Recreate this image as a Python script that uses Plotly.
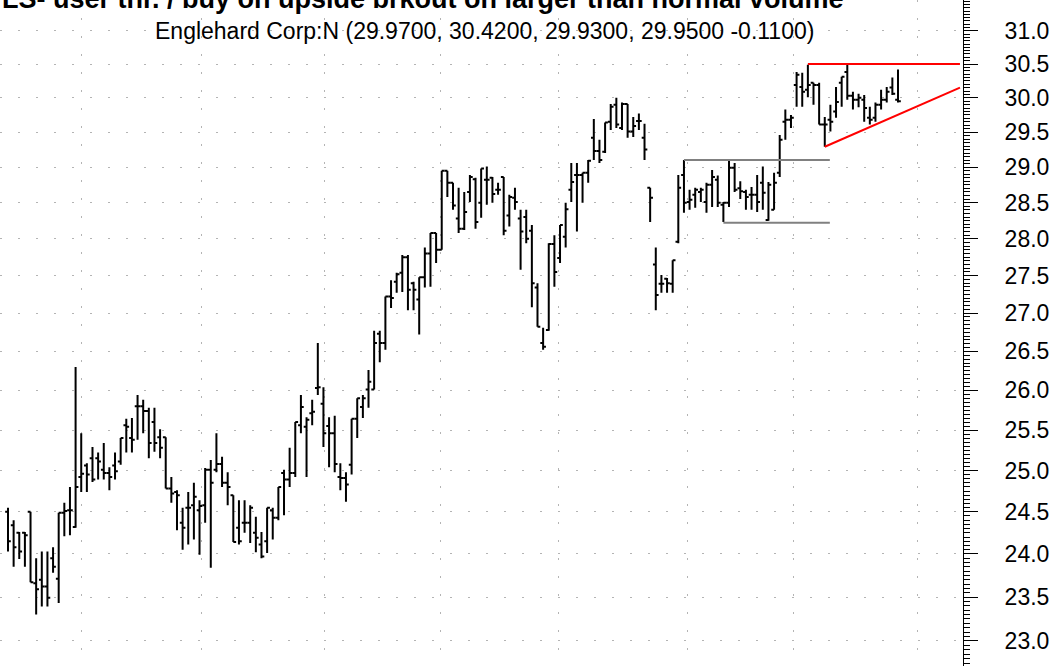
import plotly.graph_objects as go

# daily bars (oldest first)
opens = [
    24.50, 24.34, 24.25, 24.25, 24.50, 23.66, 23.70, 23.62, 23.95, 23.71,
    24.49, 24.52, 24.32, 24.92, 25.06, 25.15, 25.15, 25.01, 24.97, 25.06,
    25.11, 25.56, 25.40, 25.80, 25.80, 25.74, 25.60, 25.41, 25.41, 24.78,
    24.74, 24.37, 24.55, 24.58, 24.52, 24.58, 25.01, 25.01, 25.08, 24.85,
    24.70, 24.31, 24.37, 24.37, 24.25, 24.11, 24.15, 24.52, 24.43, 24.97,
    24.89, 24.97, 25.56, 25.54, 25.71, 26.03, 25.83, 25.55, 25.46, 24.92,
    24.91, 25.07, 25.64, 25.79, 26.01, 26.01, 26.73, 26.61, 27.22, 27.42,
    27.54, 27.75, 27.40, 27.18, 27.48, 27.80, 28.08, 27.85, 28.95, 28.78,
    28.28, 28.14, 28.65, 28.83, 28.50, 28.82, 28.85, 28.68, 28.86, 28.32,
    28.57, 28.28, 28.30, 28.11, 27.34, 26.61, 26.78, 27.93, 27.74, 28.03,
    28.68, 28.89, 28.89, 28.92, 29.42, 29.23, 29.22, 29.65, 29.90, 29.56,
    29.91, 29.51, 29.66, 29.42, 28.71, 27.65, 27.39, 27.46, 27.39, 27.96,
    28.89, 28.51, 28.61, 28.65, 28.51, 28.75, 28.82, 28.47, 28.50, 28.99,
    28.70, 28.65, 28.61, 28.61, 28.78, 28.26, 28.40, 28.92, 29.65, 29.68,
    30.19, 30.16, 30.12, 30.22, 30.19, 29.61, 29.68, 29.80, 30.22, 30.38,
    30.03, 29.97, 29.97, 29.71, 29.71, 29.90, 29.97, 30.15, 29.97,
]
highs = [
    24.55, 24.40, 24.26, 24.26, 24.50, 23.95, 24.03, 24.03, 24.08, 24.49,
    24.61, 24.80, 26.30, 25.46, 25.09, 25.29, 25.22, 25.34, 25.04, 25.22,
    25.40, 25.64, 25.65, 25.94, 25.88, 25.78, 25.78, 25.51, 25.41, 24.92,
    24.76, 24.55, 24.74, 24.85, 24.64, 25.03, 25.13, 25.46, 25.17, 24.98,
    24.70, 24.64, 24.64, 24.58, 24.44, 24.26, 24.55, 24.55, 24.80, 25.01,
    25.28, 25.60, 25.94, 25.66, 25.88, 26.61, 26.04, 25.66, 25.68, 25.09,
    24.98, 25.64, 25.90, 25.94, 26.26, 26.77, 26.77, 27.22, 27.44, 27.54,
    27.78, 27.78, 27.42, 27.48, 27.88, 28.08, 28.08, 28.95, 28.95, 28.78,
    28.71, 28.65, 28.89, 28.85, 28.98, 29.01, 28.86, 28.78, 28.86, 28.61,
    28.71, 28.40, 28.40, 28.19, 27.40, 26.81, 27.94, 28.05, 28.19, 28.50,
    29.06, 29.06, 28.92, 29.10, 29.69, 29.39, 29.64, 29.91, 30.00, 29.93,
    29.91, 29.72, 29.77, 29.62, 28.71, 27.88, 27.51, 27.47, 27.71, 28.89,
    29.10, 28.68, 28.71, 28.71, 28.78, 28.96, 28.88, 28.51, 29.10, 29.06,
    28.80, 28.68, 28.72, 28.89, 29.01, 28.79, 28.92, 29.46, 29.83, 29.75,
    30.38, 30.37, 30.49, 30.22, 30.22, 29.72, 29.90, 30.16, 30.31, 30.50,
    30.09, 30.06, 30.04, 29.87, 29.93, 30.12, 30.16, 30.30, 30.42,
]
lows = [
    24.03, 23.85, 23.94, 23.85, 23.67, 23.30, 23.39, 23.39, 23.78, 23.43,
    24.21, 24.22, 24.31, 24.74, 24.74, 24.86, 24.89, 24.89, 24.76, 24.89,
    25.07, 25.22, 25.22, 25.38, 25.46, 25.15, 25.23, 25.15, 24.78, 24.61,
    24.28, 24.05, 24.11, 24.17, 23.99, 24.37, 23.84, 24.98, 24.80, 24.58,
    24.14, 24.11, 24.25, 24.13, 24.02, 23.95, 24.01, 24.17, 24.40, 24.46,
    24.80, 24.92, 25.46, 24.92, 25.56, 25.94, 25.29, 25.04, 24.98, 24.76,
    24.62, 24.95, 25.40, 25.65, 25.78, 26.01, 26.36, 26.52, 27.07, 27.27,
    27.28, 27.04, 27.04, 26.72, 27.34, 27.35, 27.67, 27.85, 28.58, 28.40,
    28.08, 28.12, 28.51, 28.14, 28.29, 28.47, 28.50, 28.61, 28.05, 28.17,
    28.40, 27.58, 27.94, 27.08, 26.82, 26.52, 26.77, 27.35, 27.67, 27.88,
    28.51, 28.10, 28.50, 28.78, 29.10, 29.06, 29.20, 29.53, 29.56, 29.53,
    29.42, 29.43, 29.53, 29.10, 28.23, 27.04, 27.27, 27.27, 27.27, 27.94,
    28.36, 28.40, 28.43, 28.51, 28.36, 28.44, 28.44, 28.23, 28.44, 28.65,
    28.55, 28.40, 28.40, 28.37, 28.40, 28.25, 28.40, 28.86, 29.39, 29.56,
    29.87, 29.87, 30.01, 29.90, 29.61, 29.29, 29.51, 29.71, 29.87, 29.97,
    29.83, 29.86, 29.65, 29.61, 29.65, 29.83, 29.93, 30.04, 29.93,
]
closes = [
    24.15, 24.08, 24.03, 24.22, 23.67, 23.59, 23.62, 23.49, 23.85, 24.49,
    24.51, 24.52, 24.80, 24.96, 24.95, 24.89, 25.11, 24.97, 24.92, 24.99,
    25.40, 25.54, 25.38, 25.80, 25.74, 25.34, 25.34, 25.28, 24.78, 24.72,
    24.70, 24.31, 24.55, 24.68, 24.57, 25.01, 24.85, 25.08, 24.85, 24.80,
    24.14, 24.15, 24.37, 24.55, 24.19, 23.97, 24.55, 24.43, 24.80, 24.89,
    24.97, 25.60, 25.79, 25.63, 25.73, 26.04, 25.46, 25.46, 25.08, 24.91,
    24.83, 25.64, 25.90, 25.90, 26.11, 26.61, 26.61, 27.22, 27.20, 27.52,
    27.75, 27.31, 27.31, 27.48, 27.80, 28.08, 27.85, 28.95, 28.78, 28.46,
    28.14, 28.37, 28.86, 28.23, 28.98, 28.82, 28.62, 28.68, 28.11, 28.58,
    28.51, 28.10, 28.00, 27.40, 26.82, 26.56, 27.93, 27.55, 28.19, 28.41,
    28.79, 28.89, 28.92, 29.09, 29.23, 29.10, 29.64, 29.87, 29.61, 29.91,
    29.51, 29.59, 29.66, 29.25, 28.57, 27.24, 27.39, 27.40, 27.71, 28.71,
    28.50, 28.54, 28.68, 28.68, 28.75, 28.86, 28.50, 28.50, 28.99, 28.68,
    28.66, 28.58, 28.61, 28.51, 28.64, 28.75, 28.78, 29.39, 29.68, 29.71,
    30.34, 30.09, 30.19, 30.19, 29.61, 29.61, 29.65, 29.94, 30.31, 30.03,
    29.97, 30.00, 29.85, 29.68, 29.90, 29.97, 30.09, 30.06, 29.95,
]
bars = list(range(len(closes)))

# month boundaries (bar index) used for the vertical grid
month_starts = [13.1, 34.3, 56.1, 76.7, 97.8, 120.7, 139.5, 161.4]

# drawn study lines: (x0, y0, x1, y1)
box_top = (120, 29.10, 145.9, 29.10)
box_bottom = (127, 28.22, 145.9, 28.22)
resistance = (142, 30.50, 169.0, 30.50)
support = (145, 29.29, 169.0, 30.15)

price_ticks = [23.0 + 0.5 * i for i in range(17)]
minor_ticks = [round(22.70 + 0.05 * i, 2) for i in range(176)]
minor_ticks = [v for v in minor_ticks if abs(v * 2 - round(v * 2)) > 1e-6]

FONT = "Arial, Liberation Sans, sans-serif"
GRID = "#b4b4b4"

fig = go.Figure()
fig.add_trace(
    go.Ohlc(
        x=bars,
        open=opens,
        high=highs,
        low=lows,
        close=closes,
        increasing_line_color="black",
        decreasing_line_color="black",
        line_width=2,
        tickwidth=0.5,
        showlegend=False,
        hoverinfo="skip",
    )
)

for seg, color in [
    (box_top, "#808080"),
    (box_bottom, "#808080"),
    (resistance, "#ff0000"),
    (support, "#ff0000"),
]:
    fig.add_trace(
        go.Scatter(
            x=[seg[0], seg[2]],
            y=[seg[1], seg[3]],
            mode="lines",
            line=dict(color=color, width=2),
            showlegend=False,
            hoverinfo="skip",
        )
    )

fig.add_annotation(
    text="<b>LS- user thr. / buy on upside brkout on larger than normal volume</b>",
    xref="paper", yref="paper", x=0.0, y=0.976,
    xanchor="left", yanchor="bottom", showarrow=False,
    font=dict(family=FONT, size=27, color="black"),
)
fig.add_annotation(
    text="Englehard Corp:N (29.9700, 30.4200, 29.9300, 29.9500 -0.1100)",
    xref="paper", yref="paper", x=0.5026, y=0.9535,
    xanchor="center", yanchor="middle", showarrow=False,
    font=dict(family=FONT, size=23, color="black"),
)

fig.update_layout(
    width=1061,
    height=666,
    margin=dict(l=0, r=98, t=0, b=0),
    paper_bgcolor="white",
    plot_bgcolor="white",
    font=dict(family=FONT, color="black"),
    xaxis=dict(
        range=[-1.42, 169.54],
        rangeslider=dict(visible=False),
        tickmode="array",
        tickvals=month_starts,
        showticklabels=False,
        ticks="",
        showgrid=True,
        gridcolor=GRID,
        griddash="2px,16px",
        gridwidth=1,
        zeroline=False,
        showline=False,
    ),
    yaxis=dict(
        type="log",
        side="right",
        range=[1.35641, 1.49790],
        tickmode="array",
        tickvals=price_ticks,
        ticktext=[f"{v:.1f}" for v in price_ticks],
        ticks="outside",
        ticklen=14,
        tickwidth=1,
        tickcolor="black",
        ticklabelstandoff=22,
        tickfont=dict(family=FONT, size=23, color="black"),
        minor=dict(
            tickmode="array",
            tickvals=minor_ticks,
            ticks="outside",
            ticklen=6,
            tickwidth=1,
            tickcolor="black",
            showgrid=False,
        ),
        showline=True,
        linecolor="black",
        linewidth=1,
        showgrid=True,
        gridcolor=GRID,
        griddash="2px,16px",
        gridwidth=1,
        zeroline=False,
    ),
)

# the page's default body margin would push the chart 8px right and down
fig.write_html(
    "out.html",
    config={"displayModeBar": False},
    post_script="document.body.style.margin='0';",
)
